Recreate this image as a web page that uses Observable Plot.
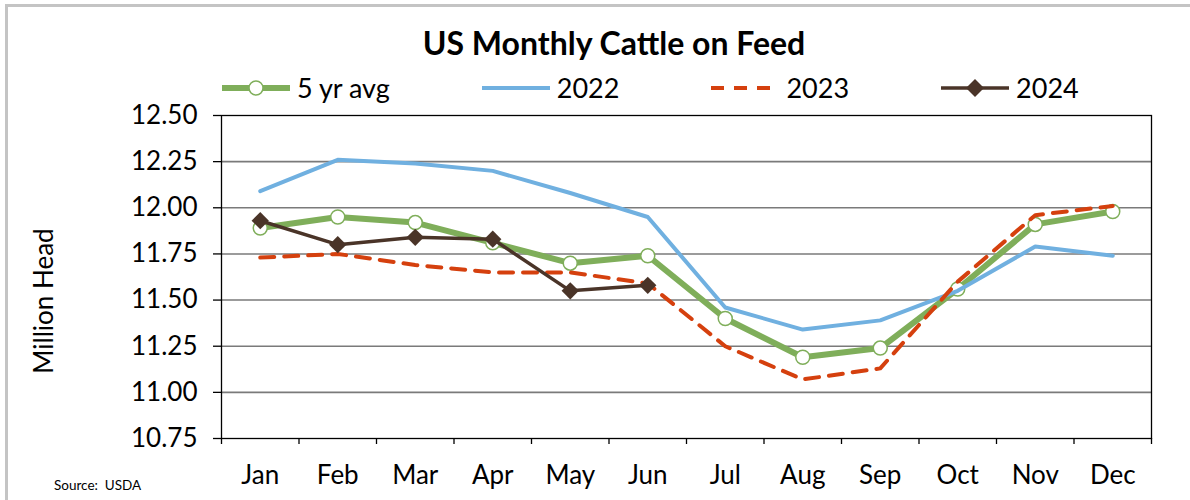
<!DOCTYPE html>
<html><head><meta charset="utf-8">
<script src="https://cdn.jsdelivr.net/npm/d3@7"></script>
<script src="https://cdn.jsdelivr.net/npm/@observablehq/plot@0.6"></script>
<style>
body{margin:0;background:#fff;font-family:Lato,"Open Sans",sans-serif;color:#000;}
#wrap{position:relative;width:1190px;height:500px;overflow:hidden;}
#border{position:absolute;left:5px;top:4px;width:1300px;height:600px;border-top:3px solid #c4c4c4;border-left:3px solid #c4c4c4;pointer-events:none;}
#header{position:relative;height:100px;}
#title{position:absolute;left:614px;top:23px;transform:translateX(-50%);font-weight:bold;font-size:32px;white-space:nowrap;}
#legend{position:absolute;left:222px;top:71px;display:flex;gap:92px;align-items:center;font-size:27px;white-space:nowrap;}
.item{display:flex;align-items:center;}
.item svg{margin-right:7px;}
#ylabel{position:absolute;left:43px;top:301px;transform:translate(-50%,-50%) rotate(-90deg);font-size:26px;white-space:nowrap;}
#source{position:absolute;left:54px;top:477px;font-size:13.5px;white-space:nowrap;}
#chart svg{display:block;}
</style>
</head><body>
<div id="wrap">
  <div id="border"></div>
  <div id="header">
    <div id="title">US Monthly Cattle on Feed</div>
    <div id="legend"></div>
  </div>
  <div id="chart"></div>
  <div id="ylabel">Million Head</div>
  <div id="source">Source:&nbsp; USDA</div>
</div>
<script>
const months = ["Jan","Feb","Mar","Apr","May","Jun","Jul","Aug","Sep","Oct","Nov","Dec"];
const avg5  = [11.89, 11.95, 11.92, 11.81, 11.70, 11.74, 11.40, 11.19, 11.24, 11.56, 11.91, 11.98];
const y2022 = [12.09, 12.26, 12.24, 12.20, 12.08, 11.95, 11.46, 11.34, 11.39, 11.55, 11.79, 11.74];
const y2023 = [11.73, 11.75, 11.69, 11.65, 11.65, 11.59, 11.25, 11.07, 11.13, 11.60, 11.96, 12.01];
const y2024 = [11.93, 11.80, 11.84, 11.83, 11.55, 11.58];
const yTicks = [10.75, 11.00, 11.25, 11.50, 11.75, 12.00, 12.25, 12.50];
const seriesNames = ["5 yr avg", "2022", "2023", "2024"];

const green = "#7fae5a", blue = "#70b0e0", red = "#d5400e", brown = "#4a3428";

const rows = arr => arr.map((v, i) => ({m: i + 1, v}));
const monthIdx = months.map((_, i) => i + 1);
const boundaries = d3.range(0, months.length + 1).map(i => i + 0.5);

const chart = Plot.plot({
  width: 1190, height: 400,
  marginLeft: 221, marginRight: 39, marginTop: 15, marginBottom: 62,
  style: {fontFamily: "Lato, 'Open Sans', sans-serif", fontSize: "26px", color: "#000", background: "transparent", overflow: "visible"},
  x: {domain: [0.5, 12.5]},
  y: {domain: [10.75, 12.5]},
  marks: [
    Plot.ruleY(yTicks.slice(1, -1), {stroke: "#7a7a7a", strokeWidth: 1.6}),
    Plot.axisY(yTicks, {tickSize: 8, tickPadding: 16, tickFormat: d => d.toFixed(2), label: null, strokeWidth: 1.3}),
    Plot.axisX(boundaries, {tickSize: 6, tickFormat: () => "", label: null, strokeWidth: 1.3}),
    Plot.axisX(monthIdx, {tickSize: 0, tickPadding: 27, tickFormat: d => months[d - 1], label: null}),
    Plot.frame({stroke: "#000", strokeWidth: 1.3}),
    Plot.line(rows(avg5), {x: "m", y: "v", stroke: green, strokeWidth: 6}),
    Plot.dot(rows(avg5), {x: "m", y: "v", r: 7, fill: "#fff", stroke: green, strokeWidth: 1.5}),
    Plot.line(rows(y2022), {x: "m", y: "v", stroke: blue, strokeWidth: 4}),
    Plot.line(rows(y2023), {x: "m", y: "v", stroke: red, strokeWidth: 4, strokeDasharray: "14 10"}),
    Plot.line(rows(y2024), {x: "m", y: "v", stroke: brown, strokeWidth: 3.5}),
    Plot.dot(rows(y2024), {x: "m", y: "v", symbol: "diamond2", r: 7.8, fill: brown, stroke: "none"})
  ]
});
document.getElementById("chart").appendChild(chart);

// Legend
const legendSpecs = [
  {color: green, width: 6, dash: null, marker: "circle"},
  {color: blue, width: 4, dash: null, marker: null},
  {color: red, width: 4, dash: "13 10", marker: null},
  {color: brown, width: 3.5, dash: null, marker: "diamond"}
];
const legend = document.getElementById("legend");
seriesNames.forEach((name, i) => {
  const s = legendSpecs[i];
  const item = document.createElement("div");
  item.className = "item";
  let marker = "";
  if (s.marker === "circle") marker = `<circle cx="34" cy="12" r="7" fill="#fff" stroke="${s.color}" stroke-width="1.5"/>`;
  if (s.marker === "diamond") marker = `<path d="M34,3 L43,12 L34,21 L25,12 Z" fill="${s.color}"/>`;
  item.innerHTML = `<svg width="68" height="24"><line x1="0" x2="68" y1="12" y2="12" stroke="${s.color}" stroke-width="${s.width}" ${s.dash ? `stroke-dasharray="${s.dash}"` : ""}/>${marker}</svg><span>${name}</span>`;
  legend.appendChild(item);
});
</script>
</body></html>
